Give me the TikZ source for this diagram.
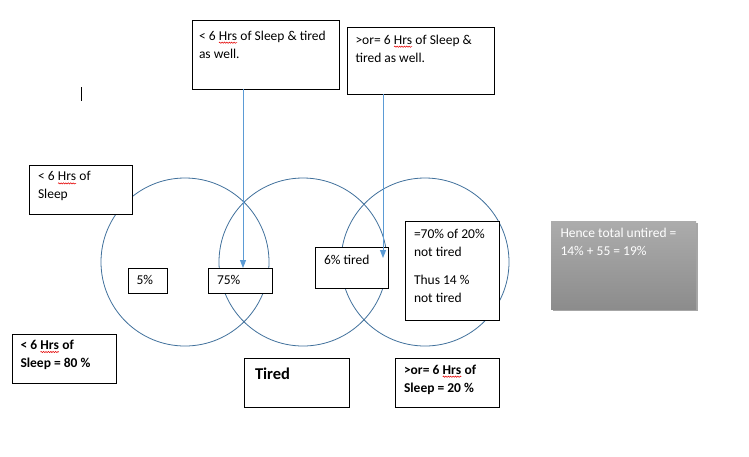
\documentclass[tikz,border=0pt]{standalone}
\usepackage{fontspec}
\setmainfont{Carlito}
\usetikzlibrary{arrows.meta,shadows,decorations.pathmorphing,calc}
\definecolor{circblue}{RGB}{65,113,156}
\definecolor{arrblue}{RGB}{91,155,213}
\definecolor{graytop}{RGB}{172,172,172}
\definecolor{graybot}{RGB}{140,140,140}
\newcommand\tstrut{\rule{0pt}{11pt}}
\newcommand\sqwig[1]{\tikz[baseline=(sqw.base)]{\node[inner sep=0pt,outer sep=0pt,draw=none,fill=none,shape=rectangle,anchor=base west] (sqw) at (0,0) {#1};\draw[red!90!black,line width=0.55pt,decorate,decoration={snake,amplitude=0.6pt,segment length=2.4pt}] ([yshift=-2.7pt]sqw.base west) -- ([yshift=-2.7pt]sqw.base east);}}
\newcommand\hrs{\sqwig{Hrs}}
\tikzset{
  circ/.style={draw=circblue, line width=0.8pt},
  box/.style={draw=black, fill=white, line width=0.9pt, inner sep=0pt, outer sep=0pt, anchor=north west, shape=rectangle},
  txt/.style={inner sep=0pt, outer sep=0pt, anchor=north west, align=left, font=\fontsize{13.5}{18}\selectfont},
  btxt/.style={txt, font=\fontsize{13.5}{18}\selectfont\bfseries},
  pointer/.style={draw=arrblue, line width=0.9pt, -{Triangle[length=8pt,width=6pt]}}
}
\begin{document}
\begin{tikzpicture}[x=1pt,y=-1pt]
\useasboundingbox (0,0) rectangle (749,456);
\fill[white] (0,0) rectangle (749,456);
% circles
\node[circ, circle, minimum size=168pt, inner sep=0pt] (cL) at (185,262) {};
\node[circ, circle, minimum size=168pt, inner sep=0pt] (cM) at (303,262) {};
\node[circ, circle, minimum size=168pt, inner sep=0pt] (cR) at (425,262) {};
% boxes
\node[box, minimum width=147pt, minimum height=69pt] (b1) at (192,20) {};
\node[box, minimum width=147pt, minimum height=67pt] (b2) at (347,27) {};
\node[box, minimum width=103pt, minimum height=49pt] (b3) at (29,165) {};
\node[box, minimum width=39pt, minimum height=25pt] (b4) at (128,268) {};
\node[box, minimum width=64pt, minimum height=25pt] (b5) at (208,268) {};
\node[box, minimum width=73pt, minimum height=41pt] (b6) at (315,247) {};
\node[box, minimum width=94pt, minimum height=99pt] (b7) at (405,221) {};
\node[box, minimum width=104pt, minimum height=49pt] (b8) at (12,334) {};
\node[box, minimum width=105pt, minimum height=49pt] (b9) at (244,358) {};
\node[box, minimum width=104pt, minimum height=49pt] (b10) at (395,358) {};
\node[box, draw=none, top color=graytop, bottom color=graybot, minimum width=145pt, minimum height=88pt,
  drop shadow={shadow xshift=1.5pt, shadow yshift=-2pt, fill=black, opacity=0.35}] (g) at (551,221) {};
% arrows
\coordinate (a1s) at (243,89);
\coordinate (a1e) at (243,268);
\coordinate (a2s) at (383,94);
\coordinate (a2e) at (383,258);
\draw[pointer] (a1s) -- (a1e);
\draw[pointer] (a2s) -- (a2e);
% cursor
\coordinate (cu1) at (81,87);
\coordinate (cu2) at (81,101);
\draw[line width=0.9pt] (cu1) -- (cu2);
% texts
\node[txt] (t1) at (199,29) {\tstrut< 6 \hrs{} of Sleep \& tired\\as well.};
\node[txt] (t2) at (355.5,33) {\tstrut>or= 6 \hrs{} of Sleep \&\\tired as well.};
\node[txt] (t3) at (38,169.7) {\tstrut< 6 \hrs{} of\\Sleep};
\node[txt] (t4) at (136.5,273) {\tstrut5\%};
\node[txt] (t5) at (217,273) {\tstrut75\%};
\node[txt] (t6) at (324,253) {\tstrut6\% tired};
\node[txt] (t7) at (414,227.3) {\tstrut=70\% of 20\%\\not tired\\[10pt]Thus 14 \%\\not tired};
\node[txt, text=white] (t8) at (560.5,226.3) {\tstrut Hence total untired =\\14\% + 55 = 19\%};
\node[btxt] (t9) at (20.5,338.3) {\tstrut< 6 \hrs{} of\\Sleep = 80 \%};
\node[txt, font=\fontsize{16.5}{20}\selectfont\bfseries] (t10) at (255,366) {\rule{0pt}{13pt}Tired};
\node[btxt] (t11) at (404,363) {\tstrut>or= 6 \hrs{} of\\Sleep = 20 \%};
\end{tikzpicture}
\end{document}
